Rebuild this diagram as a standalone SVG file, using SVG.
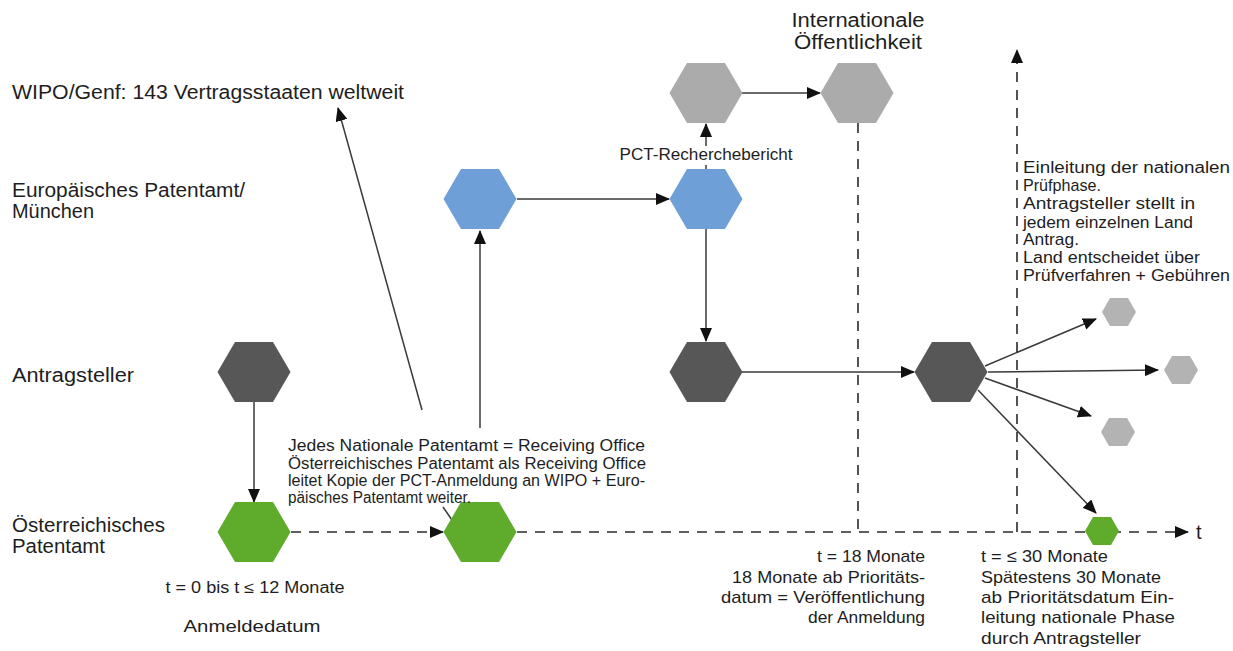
<svg xmlns="http://www.w3.org/2000/svg" width="1233" height="651" viewBox="0 0 1233 651">
<style>
text{font-family:"Liberation Sans",Arial,sans-serif;fill:#1e1e1e}
.lbl{font-size:20px}
.sm{font-size:16px}
.md{font-size:17px}
.ln{stroke:#3a3a3a;stroke-width:1.5;fill:none}
.dash{stroke:#2a2a2a;stroke-width:1.6;fill:none;stroke-dasharray:10 8}
.green{fill:#5fab2c}
.blue{fill:#6e9fd6}
.dark{fill:#575757}
.gray{fill:#ababab}
.lgray{fill:#b3b3b3}
</style>
<defs>
<marker id="ah" viewBox="0 0 14 12" refX="13" refY="6" markerWidth="14" markerHeight="12" markerUnits="userSpaceOnUse" orient="auto">
<path d="M0,0 L14,6 L0,12 Z" fill="#111"/>
</marker>
<path id="hex" d="M-36.5,0 L-19,-30 L19,-30 L36.5,0 L19,30 L-19,30 Z"/>
<path id="shex" d="M-17,0 L-9,-14 L9,-14 L17,0 L9,14 L-9,14 Z"/>
</defs>
<rect width="1233" height="651" fill="#ffffff"/>

<g id="row-labels">
<text class="lbl" x="12" y="99" textLength="392" lengthAdjust="spacingAndGlyphs">WIPO/Genf: 143 Vertragsstaaten weltweit</text>
<text class="lbl" x="12" y="197" textLength="233" lengthAdjust="spacingAndGlyphs">Europäisches Patentamt/</text>
<text class="lbl" x="12" y="218" textLength="82" lengthAdjust="spacingAndGlyphs">München</text>
<text class="lbl" x="12" y="382" textLength="122" lengthAdjust="spacingAndGlyphs">Antragsteller</text>
<text class="lbl" x="12" y="532" textLength="153" lengthAdjust="spacingAndGlyphs">Österreichisches</text>
<text class="lbl" x="12" y="553" textLength="93" lengthAdjust="spacingAndGlyphs">Patentamt</text>
</g>

<g id="connectors">
<line class="ln" x1="254" y1="402" x2="254" y2="502" marker-end="url(#ah)"/>
<line class="dash" x1="291" y1="532" x2="443" y2="532" marker-end="url(#ah)"/>
<line class="dash" x1="517" y1="532" x2="1188" y2="532" marker-end="url(#ah)"/>
<line class="ln" x1="480" y1="503" x2="480" y2="517"/>
<line class="ln" x1="480" y1="428" x2="480" y2="231" marker-end="url(#ah)"/>
<line class="ln" x1="452" y1="520" x2="443" y2="507"/>
<line class="ln" x1="422" y1="410" x2="338" y2="108" marker-end="url(#ah)"/>
<line class="ln" x1="517" y1="199" x2="669" y2="199" marker-end="url(#ah)"/>
<line class="ln" x1="706" y1="169" x2="706" y2="165"/>
<line class="ln" x1="706" y1="146" x2="706" y2="124" marker-end="url(#ah)"/>
<line class="ln" x1="742" y1="93" x2="820" y2="93" marker-end="url(#ah)"/>
<line class="ln" x1="706" y1="229" x2="706" y2="341" marker-end="url(#ah)"/>
<line class="ln" x1="742" y1="372" x2="914" y2="372" marker-end="url(#ah)"/>
<line class="ln" x1="985" y1="366" x2="1096" y2="319" marker-end="url(#ah)"/>
<line class="ln" x1="988" y1="372" x2="1158" y2="370" marker-end="url(#ah)"/>
<line class="ln" x1="985" y1="378" x2="1091" y2="416" marker-end="url(#ah)"/>
<line class="ln" x1="978" y1="390" x2="1096" y2="513" marker-end="url(#ah)"/>
<line class="dash" x1="858" y1="123" x2="858" y2="532"/>
<line class="dash" x1="1017" y1="532" x2="1017" y2="50" marker-end="url(#ah)"/>
</g>

<g id="antragsteller-1"><use href="#hex" class="dark" x="254" y="372"/></g>
<g id="patentamt-at-1"><use href="#hex" class="green" x="254" y="532"/></g>
<g id="patentamt-at-2"><use href="#hex" class="green" x="480" y="532"/></g>
<g id="epa-1"><use href="#hex" class="blue" x="480" y="199"/></g>
<g id="epa-2"><use href="#hex" class="blue" x="706" y="199"/></g>
<g id="wipo-1"><use href="#hex" class="gray" x="706" y="93"/></g>
<g id="oeffentlichkeit"><use href="#hex" class="gray" x="857" y="93"/></g>
<g id="antragsteller-2"><use href="#hex" class="dark" x="706" y="372"/></g>
<g id="antragsteller-3"><use href="#hex" class="dark" x="951" y="372"/></g>
<g id="land-1"><use href="#shex" class="lgray" x="1119" y="312"/></g>
<g id="land-2"><use href="#shex" class="lgray" x="1181" y="370"/></g>
<g id="land-3"><use href="#shex" class="lgray" x="1118" y="432"/></g>
<g id="nationale-phase"><use href="#shex" class="green" x="1102" y="531"/></g>

<g id="texts">
<text class="sm" x="255" y="593" text-anchor="middle" textLength="179" lengthAdjust="spacingAndGlyphs">t = 0 bis t ≤ 12 Monate</text>
<text class="md" x="252" y="632" text-anchor="middle" textLength="137" lengthAdjust="spacingAndGlyphs">Anmeldedatum</text>
<text class="sm" x="288" y="451" textLength="357" lengthAdjust="spacingAndGlyphs">Jedes Nationale Patentamt = Receiving Office</text>
<text class="sm" x="288" y="469" textLength="358" lengthAdjust="spacingAndGlyphs">Österreichisches Patentamt als Receiving Office</text>
<text class="sm" x="288" y="486" textLength="357" lengthAdjust="spacingAndGlyphs">leitet Kopie der PCT-Anmeldung an WIPO + Euro-</text>
<text class="sm" x="288" y="503" textLength="183" lengthAdjust="spacingAndGlyphs">päisches Patentamt weiter.</text>
<text class="sm" x="706" y="160" text-anchor="middle" textLength="173" lengthAdjust="spacingAndGlyphs">PCT-Recherchebericht</text>
<text class="lbl" x="858" y="27" text-anchor="middle" textLength="133" lengthAdjust="spacingAndGlyphs">Internationale</text>
<text class="lbl" x="858" y="49" text-anchor="middle" textLength="128" lengthAdjust="spacingAndGlyphs">Öffentlichkeit</text>
<text class="sm" x="1023" y="173" textLength="207" lengthAdjust="spacingAndGlyphs">Einleitung der nationalen</text>
<text font-size="17" x="1023" y="191" textLength="78" lengthAdjust="spacingAndGlyphs">Prüfphase.</text>
<text class="sm" x="1023" y="209" textLength="172" lengthAdjust="spacingAndGlyphs">Antragsteller stellt in</text>
<text class="sm" x="1023" y="228" textLength="170" lengthAdjust="spacingAndGlyphs">jedem einzelnen Land</text>
<text font-size="17" x="1023" y="245" textLength="56" lengthAdjust="spacingAndGlyphs">Antrag.</text>
<text class="sm" x="1023" y="263" textLength="177" lengthAdjust="spacingAndGlyphs">Land entscheidet über</text>
<text class="sm" x="1023" y="281" textLength="207" lengthAdjust="spacingAndGlyphs">Prüfverfahren + Gebühren</text>
<text class="md" x="925" y="562" text-anchor="end" textLength="108" lengthAdjust="spacingAndGlyphs">t = 18 Monate</text>
<text class="md" x="925" y="583" text-anchor="end" textLength="193" lengthAdjust="spacingAndGlyphs">18 Monate ab Prioritäts-</text>
<text class="md" x="925" y="603" text-anchor="end" textLength="204" lengthAdjust="spacingAndGlyphs">datum = Veröffentlichung</text>
<text class="md" x="925" y="623" text-anchor="end" textLength="117" lengthAdjust="spacingAndGlyphs">der Anmeldung</text>
<text class="md" x="981" y="562" textLength="127" lengthAdjust="spacingAndGlyphs">t = ≤ 30 Monate</text>
<text class="md" x="981" y="583" textLength="180" lengthAdjust="spacingAndGlyphs">Spätestens 30 Monate</text>
<text class="md" x="981" y="603" textLength="193" lengthAdjust="spacingAndGlyphs">ab Prioritätsdatum Ein-</text>
<text class="md" x="981" y="623" textLength="194" lengthAdjust="spacingAndGlyphs">leitung nationale Phase</text>
<text class="md" x="981" y="644" textLength="160" lengthAdjust="spacingAndGlyphs">durch Antragsteller</text>
<text class="lbl" x="1196" y="539">t</text>
</g>
</svg>
